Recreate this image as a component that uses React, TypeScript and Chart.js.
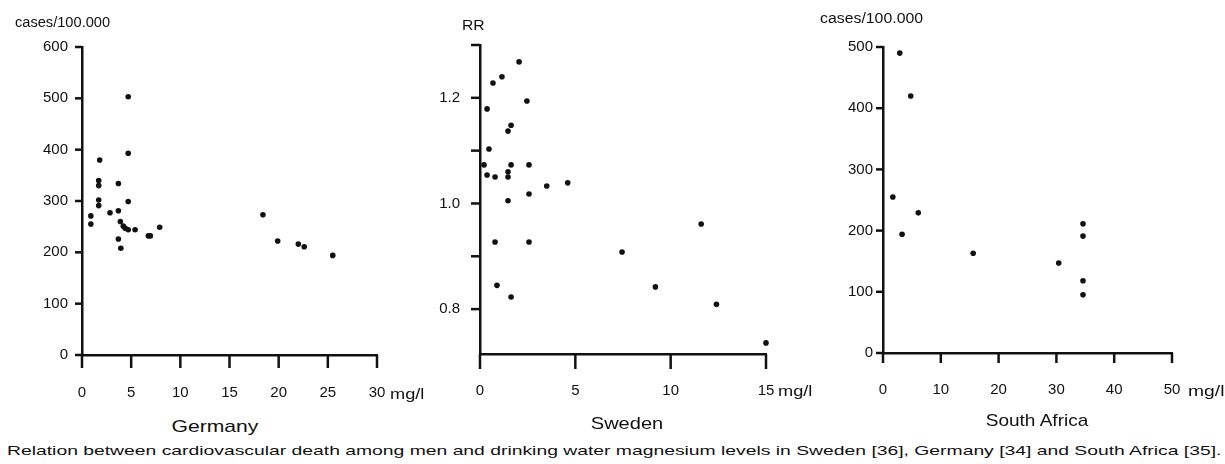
import React, { useEffect, useLayoutEffect, useRef } from "react";
import { Chart, registerables } from "chart.js";

Chart.register(...registerables);

// ---------- DATA ----------
// Germany: Mg (mg/l) vs cases/100.000
const germanyMg = [4.7, 4.7, 1.8, 1.7, 1.7, 3.7, 1.7, 1.7, 4.7, 0.9, 0.9, 2.85, 3.7, 3.9, 4.2, 4.4, 4.7, 5.4, 6.75, 6.95, 7.9, 3.7, 3.95, 18.4, 19.9, 22.0, 22.6, 25.5];
const germanyCases = [503, 393, 380, 340, 330, 334, 302, 291, 299, 271, 255, 277, 281, 260, 251, 247, 244, 244, 232, 232, 249, 226, 208, 273, 222, 216, 211, 194];

// Sweden: Mg (mg/l) vs RR
const swedenMg = [2.05, 0.68, 1.15, 2.46, 0.37, 1.63, 1.47, 0.47, 0.21, 0.37, 0.79, 1.63, 1.47, 1.47, 2.57, 3.5, 4.6, 2.57, 1.47, 0.79, 2.57, 7.45, 11.6, 0.89, 1.63, 9.2, 12.4, 15.0];
const swedenRR = [1.268, 1.228, 1.24, 1.194, 1.179, 1.148, 1.137, 1.103, 1.073, 1.054, 1.05, 1.073, 1.06, 1.05, 1.073, 1.033, 1.039, 1.018, 1.005, 0.927, 0.927, 0.908, 0.961, 0.845, 0.823, 0.842, 0.809, 0.736];

// South Africa: Mg (mg/l) vs cases/100.000
const saMg = [2.9, 4.8, 1.7, 6.1, 3.3, 15.6, 30.4, 34.6, 34.6, 34.6, 34.6];
const saCases = [490, 420, 255, 229, 194, 163, 147, 211, 191, 118, 95];

// Tick values and labels
const germanyXTicks = [0, 5, 10, 15, 20, 25, 30];
const germanyYTicks = [0, 100, 200, 300, 400, 500, 600];
const swedenXTicks = [0, 5, 10, 15];
const swedenYTicks = [0.8, 0.9, 1.0, 1.1, 1.2, 1.3];
const swedenYLabels = ["0.8", "", "1.0", "", "1.2", ""];
const saXTicks = [0, 10, 20, 30, 40, 50];
const saYTicks = [0, 100, 200, 300, 400, 500];

const caption =
  "Relation between cardiovascular death among men and drinking water magnesium levels in Sweden [36], Germany [34] and South Africa [35].";

const FONT = "'Liberation Sans', Arial, Helvetica, sans-serif";
const INK = "#111111";

type PanelProps = {
  xs: number[];
  ys: number[];
  xMin: number;
  xMax: number;
  yMin: number;
  yMax: number;
  xTicks: number[];
  yTicks: number[];
  yLabels?: string[];
  area: { L: number; T: number; R: number; B: number };
  xTickLen: number;
  xPad: number;
  yTickLen: number;
  yPad: number;
};

const PAD_L = 80;
const PAD_T = 25;
const PAD_R = 60;
const PAD_B = 60;

function Panel(p: PanelProps) {
  const ref = useRef<HTMLCanvasElement>(null);
  const w = p.area.R - p.area.L + PAD_L + PAD_R;
  const h = p.area.B - p.area.T + PAD_T + PAD_B;
  useEffect(() => {
    if (!ref.current) return;
    const tickFont = { family: FONT, size: 15 };
    const tickMarks = {
      id: "tickMarks",
      afterDatasetsDraw(chart: any) {
        const ctx = chart.ctx;
        const xsc = chart.scales.x;
        const ysc = chart.scales.y;
        const a = chart.chartArea;
        ctx.save();
        ctx.strokeStyle = INK;
        ctx.lineWidth = 2.5;
        for (const v of p.xTicks) {
          const px = xsc.getPixelForValue(v);
          ctx.beginPath();
          ctx.moveTo(px, a.bottom);
          ctx.lineTo(px, a.bottom + p.xTickLen);
          ctx.stroke();
        }
        for (const v of p.yTicks) {
          const py = ysc.getPixelForValue(v);
          ctx.beginPath();
          ctx.moveTo(a.left - p.yTickLen, py);
          ctx.lineTo(a.left, py);
          ctx.stroke();
        }
        ctx.restore();
      },
    };
    const chart = new Chart(ref.current, {
      type: "scatter",
      data: {
        datasets: [
          {
            data: p.xs.map((x, i) => ({ x, y: p.ys[i] })),
            pointRadius: 2.8,
            pointHoverRadius: 2.8,
            pointBackgroundColor: INK,
            pointBorderColor: INK,
            pointBorderWidth: 0,
            clip: false,
          } as any,
        ],
      },
      plugins: [tickMarks],
      options: {
        responsive: false,
        animation: false,
        events: [],
        layout: { padding: { left: 0, top: PAD_T, right: PAD_R, bottom: 0 } },
        plugins: { legend: { display: false }, tooltip: { enabled: false } },
        scales: {
          x: {
            type: "linear",
            min: p.xMin,
            max: p.xMax,
            afterFit: (s: any) => {
              s.height = PAD_B;
            },
            afterBuildTicks: (s: any) => {
              s.ticks = p.xTicks.map((v) => ({ value: v }));
            },
            grid: {
              display: false,
              drawOnChartArea: false,
              drawTicks: true,
              tickLength: p.xTickLen,
            },
            border: { display: true, color: INK, width: 2.5 },
            ticks: {
              padding: p.xPad,
              font: tickFont,
              color: INK,
              maxRotation: 0,
              autoSkip: false,
              callback: (v: any) => String(v),
            },
          },
          y: {
            type: "linear",
            min: p.yMin,
            max: p.yMax,
            afterFit: (s: any) => {
              s.width = PAD_L;
            },
            afterBuildTicks: (s: any) => {
              s.ticks = p.yTicks.map((v) => ({ value: v }));
            },
            grid: {
              display: false,
              drawOnChartArea: false,
              drawTicks: true,
              tickLength: p.yTickLen,
            },
            border: { display: true, color: INK, width: 2.5 },
            ticks: {
              padding: p.yPad,
              font: tickFont,
              color: INK,
              autoSkip: false,
              callback: (v: any, i: number) => (p.yLabels ? p.yLabels[i] : String(v)),
            },
          },
        },
      } as any,
    });
    return () => chart.destroy();
  }, []);
  return (
    <canvas
      ref={ref}
      width={w}
      height={h}
      style={{
        position: "absolute",
        left: p.area.L - PAD_L,
        top: p.area.T - PAD_T,
        width: w,
        height: h,
      }}
    />
  );
}

function FitText(props: {
  text: string;
  x: number;
  y: number;
  w: number;
  size: number;
  anchor: "left" | "center";
}) {
  const ref = useRef<HTMLSpanElement>(null);
  useLayoutEffect(() => {
    const el = ref.current;
    if (!el) return;
    const nat = el.offsetWidth || 1;
    const k = props.w / nat;
    el.style.transform =
      props.anchor === "center"
        ? `translate(-50%, -50%) scaleX(${k})`
        : `translateY(-50%) scaleX(${k})`;
  }, []);
  return (
    <span
      ref={ref}
      style={{
        position: "absolute",
        left: props.x,
        top: props.y,
        whiteSpace: "nowrap",
        fontFamily: FONT,
        fontSize: props.size,
        lineHeight: 1,
        color: INK,
        transformOrigin: props.anchor === "center" ? "center center" : "left center",
      }}
    >
      {props.text}
    </span>
  );
}

export default function App() {
  return (
    <div
      style={{
        position: "absolute",
        left: 0,
        top: 0,
        width: 1225,
        height: 464,
        background: "#ffffff",
        overflow: "hidden",
      }}
    >
      <Panel
        xs={germanyMg}
        ys={germanyCases}
        xMin={0}
        xMax={30}
        yMin={0}
        yMax={600}
        xTicks={germanyXTicks}
        yTicks={germanyYTicks}
        area={{ L: 82, T: 47, R: 377, B: 355 }}
        xTickLen={13}
        xPad={16}
        yTickLen={7}
        yPad={7}
      />
      <Panel
        xs={swedenMg}
        ys={swedenRR}
        xMin={0}
        xMax={15}
        yMin={0.715}
        yMax={1.3}
        xTicks={swedenXTicks}
        yTicks={swedenYTicks}
        yLabels={swedenYLabels}
        area={{ L: 480, T: 45, R: 766, B: 354 }}
        xTickLen={15}
        xPad={13}
        yTickLen={9}
        yPad={11}
      />
      <Panel
        xs={saMg}
        ys={saCases}
        xMin={0}
        xMax={50}
        yMin={0}
        yMax={500}
        xTicks={saXTicks}
        yTicks={saYTicks}
        area={{ L: 883, T: 47, R: 1172, B: 353 }}
        xTickLen={10}
        xPad={18}
        yTickLen={7}
        yPad={3}
      />

      <FitText text="cases/100.000" x={15} y={22} w={95} size={14} anchor="left" />
      <FitText text="RR" x={462} y={24} w={23} size={15} anchor="left" />
      <FitText text="cases/100.000" x={820} y={18} w={103} size={14} anchor="left" />

      <FitText text="mg/l" x={390} y={393} w={34} size={15} anchor="left" />
      <FitText text="mg/l" x={778} y={390} w={34} size={15} anchor="left" />
      <FitText text="mg/l" x={1188} y={390} w={36} size={15} anchor="left" />

      <FitText text="Germany" x={215} y={426} w={87} size={17} anchor="center" />
      <FitText text="Sweden" x={627} y={423} w={72} size={17} anchor="center" />
      <FitText text="South Africa" x={1037} y={420} w={103} size={17} anchor="center" />

      <FitText text={caption} x={7} y={450} w={1214} size={13} anchor="left" />
    </div>
  );
}
